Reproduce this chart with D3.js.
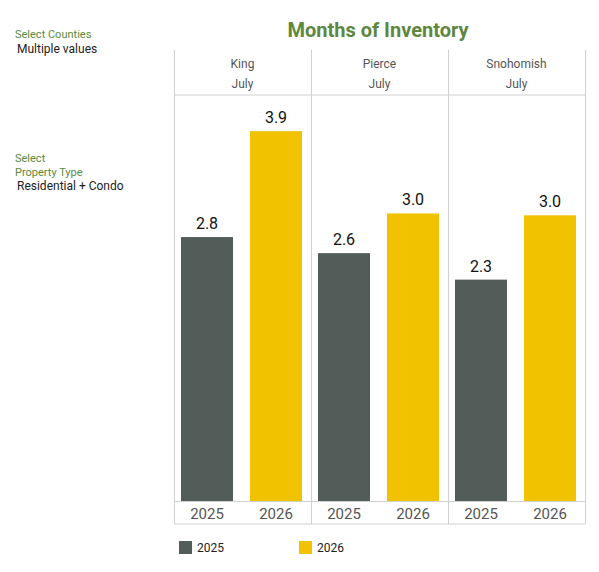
<!DOCTYPE html><html><head><meta charset="utf-8">
<script src="https://cdn.jsdelivr.net/npm/d3@7"></script>
<style>body{margin:0;background:#fff;font-family:Roboto,sans-serif}</style></head><body>
<svg id="c" width="599" height="572"></svg>
<script>
const counties=["King","Pierce","Snohomish"];
const years=["2025","2026"];
const v2025=[2.79,2.62,2.34];
const v2026=[3.91,3.04,3.02];
const month="July";
const colors=["#525c58","#f0c200"];
const svg=d3.select("#c");
svg.append("text").attr("x",378).attr("y",37).attr("text-anchor","middle").attr("font-size",20).attr("font-weight","bold").attr("fill","#5e8740").text("Months of Inventory");
const lt=[["Select Counties",15,38,"#5b8a3c",11],["Multiple values",17,53,"#222",12],["Select",15,162,"#5b8a3c",11],["Property Type",15,176,"#5b8a3c",11],["Residential + Condo",17,190,"#222",12]];
lt.forEach(d=>svg.append("text").attr("x",d[1]).attr("y",d[2]).attr("fill",d[3]).attr("font-size",d[4]).text(d[0]));
const outer=d3.scaleBand().domain(counties).range([174,585]);
const inner=d3.scaleBand().domain(years).range([7,128]).paddingInner(0.246);
const y=d3.scaleLinear().domain([0,4]).range([501,501-4*94.6]);
const g="#d0d0d0";
svg.append("line").attr("x1",174).attr("x2",585).attr("y1",95).attr("y2",95).attr("stroke",g);
svg.append("line").attr("x1",174).attr("x2",585).attr("y1",501.5).attr("y2",501.5).attr("stroke",g);
svg.append("line").attr("x1",174).attr("x2",585).attr("y1",524).attr("y2",524).attr("stroke",g);
[...counties.map(c=>outer(c)),585].forEach(x=>svg.append("line").attr("x1",x+0.5).attr("x2",x+0.5).attr("y1",50).attr("y2",524).attr("stroke",g));
counties.forEach((c,i)=>{
  const x0=outer(c), cx=x0+outer.bandwidth()/2;
  svg.append("text").attr("x",cx).attr("y",68).attr("text-anchor","middle").attr("font-size",12).attr("fill","#555").text(c);
  svg.append("text").attr("x",cx).attr("y",88).attr("text-anchor","middle").attr("font-size",12).attr("fill","#555").text(month);
  [v2025[i],v2026[i]].forEach((v,j)=>{
    const bx=x0+inner(years[j]);
    svg.append("rect").attr("x",bx).attr("width",inner.bandwidth()).attr("y",y(v)).attr("height",y(0)-y(v)).attr("fill",colors[j]);
    svg.append("text").attr("x",bx+inner.bandwidth()/2).attr("y",y(v)-8).attr("text-anchor","middle").attr("font-size",16).attr("fill","#111").text(v.toFixed(1));
    svg.append("text").attr("x",bx+inner.bandwidth()/2).attr("y",519).attr("text-anchor","middle").attr("font-size",15).attr("fill","#555").text(years[j]);
  });
});
years.forEach((yr,j)=>{
  const lx=[179,299][j];
  svg.append("rect").attr("x",lx).attr("y",541).attr("width",13).attr("height",13).attr("fill",colors[j]);
  svg.append("text").attr("x",lx+18).attr("y",552).attr("font-size",12).attr("fill","#222").text(yr);
});
</script></body></html>
